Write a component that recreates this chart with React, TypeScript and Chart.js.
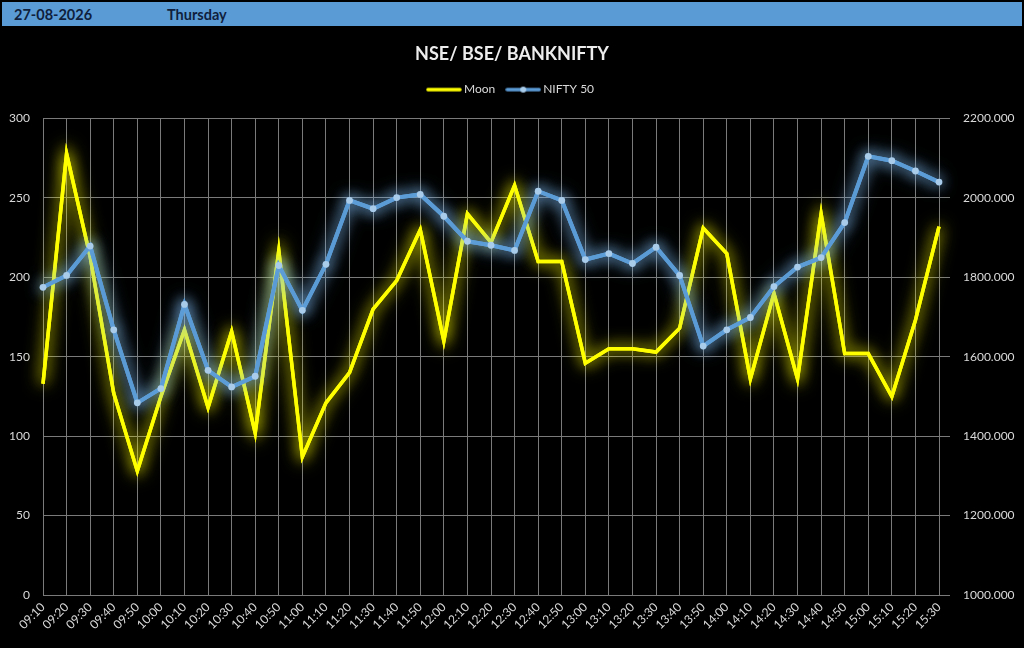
import React, { useEffect, useRef } from "react";
import { Chart, registerables } from "chart.js";

Chart.register(...registerables);

const headerDate = "27-08-2026";
const headerDay = "Thursday";
const chartTitle = "NSE/ BSE/ BANKNIFTY";
const seriesNames = ["Moon", "NIFTY 50"];

const timeLabels = [
  "09:10", "09:20", "09:30", "09:40", "09:50", "10:00", "10:10", "10:20", "10:30", "10:40",
  "10:50", "11:00", "11:10", "11:20", "11:30", "11:40", "11:50", "12:00", "12:10", "12:20",
  "12:30", "12:40", "12:50", "13:00", "13:10", "13:20", "13:30", "13:40", "13:50", "14:00",
  "14:10", "14:20", "14:30", "14:40", "14:50", "15:00", "15:10", "15:20", "15:30",
];

const moonValues = [
  133, 278, 213, 127, 78, 125, 167, 118, 166, 102,
  217, 87, 121, 140, 180, 198, 230, 160, 240, 222,
  258, 210, 210, 146, 155, 155, 153, 168, 231, 215,
  136, 190, 136, 240, 152, 152, 125, 173, 232,
];

const niftyValues = [
  1775, 1805, 1879, 1668, 1484, 1520, 1732, 1566, 1524, 1551,
  1830, 1717, 1833, 1994, 1973, 2001, 2009, 1954, 1891, 1881,
  1868, 2017, 1994, 1845, 1860, 1835, 1876, 1805, 1627, 1668,
  1699, 1777, 1826, 1850, 1938, 2105, 2094, 2068, 2040,
];

const leftAxis = { min: 0, max: 300, step: 50 };
const rightAxis = { min: 1000, max: 2200, step: 200 };

const FONT = "Lato, 'Open Sans', sans-serif";
const TEXT = "#D9D9D9";
const GRID = "#7a7a7a";
const YELLOW = "#FFFF00";
const BLUE = "#5B9BD5";
const BLUE_PT = "#A9CCEB";

function legendImage(color: string, withDot: boolean) {
  const c = document.createElement("canvas");
  c.width = 36;
  c.height = 10;
  const g = c.getContext("2d")!;
  g.strokeStyle = color;
  g.lineWidth = 3.5;
  g.lineCap = "round";
  g.beginPath();
  g.moveTo(2, 5);
  g.lineTo(34, 5);
  g.stroke();
  if (withDot) {
    g.fillStyle = BLUE_PT;
    g.beginPath();
    g.arc(18, 5, 3, 0, Math.PI * 2);
    g.fill();
  }
  return c;
}

const glowPlugin = {
  id: "glow",
  beforeDatasetDraw(chart: any, args: any) {
    const ds = chart.data.datasets[args.index];
    const ctx = chart.ctx;
    ctx.save();
    ctx.shadowColor = ds.glowColor || "transparent";
    ctx.shadowBlur = 14;
    // extra soft halo pass
    const meta = args.meta;
    if (meta && meta.dataset) {
      ctx.save();
      ctx.shadowBlur = 18;
      meta.dataset.draw(ctx, chart.chartArea);
      ctx.restore();
    }
  },
  afterDatasetDraw(chart: any) {
    chart.ctx.restore();
  },
};

const legendSpacer = {
  id: "legendSpacer",
  afterInit(chart: any) {
    const legend = chart.legend;
    if (legend && !legend.__patched) {
      const fit = legend.fit.bind(legend);
      legend.fit = () => {
        fit();
        legend.height += 13;
      };
      legend.__patched = true;
    }
  },
};

export default function App() {
  const ref = useRef<HTMLCanvasElement>(null);

  useEffect(() => {
    if (!ref.current) return;
    const imgs = [legendImage(YELLOW, false), legendImage(BLUE, true)];
    const chart = new Chart(ref.current, {
      type: "line",
      data: {
        labels: timeLabels,
        datasets: [
          {
            label: seriesNames[0],
            data: moonValues,
            yAxisID: "y",
            borderColor: YELLOW,
            backgroundColor: YELLOW,
            borderWidth: 3.5,
            pointRadius: 0,
            tension: 0,
            order: 1,
            clip: false,
            glowColor: "rgba(255,255,0,0.8)",
          } as any,
          {
            label: seriesNames[1],
            data: niftyValues,
            yAxisID: "y2",
            borderColor: BLUE,
            backgroundColor: BLUE_PT,
            borderWidth: 4,
            pointRadius: 3.4,
            pointBorderWidth: 0,
            pointBackgroundColor: BLUE_PT,
            tension: 0,
            order: 0,
            clip: false,
            glowColor: "rgba(130,190,245,0.9)",
          } as any,
        ],
      },
      options: {
        responsive: false,
        animation: false,
        layout: { padding: 0 },
        plugins: {
          title: {
            display: true,
            text: chartTitle,
            color: "#EDEDED",
            font: { family: FONT, size: 18, weight: "bold" },
            padding: { top: 16, bottom: 5 },
          },
          legend: {
            display: true,
            position: "top",
            labels: {
              color: TEXT,
              font: { family: FONT, size: 12 },
              usePointStyle: true,
              pointStyleWidth: 28,
              padding: 14,
              generateLabels: () =>
                seriesNames.map((name, i) => ({
                  text: name,
                  pointStyle: imgs[i] as any,
                  fillStyle: "transparent",
                  strokeStyle: "transparent",
                  lineWidth: 0,
                  fontColor: TEXT,
                  hidden: false,
                  datasetIndex: i,
                })),
            },
          },
          tooltip: { enabled: false },
        },
        scales: {
          x: {
            type: "category",
            offset: false,
            grid: { color: GRID, lineWidth: 1, drawTicks: false },
            border: { color: GRID },
            ticks: {
              color: TEXT,
              font: { family: FONT, size: 12 },
              autoSkip: false,
              minRotation: 45,
              maxRotation: 45,
              padding: 5,
            },
            afterFit(scale: any) {
              scale.height = 53;
            },
          },
          y: {
            position: "left",
            min: leftAxis.min,
            max: leftAxis.max,
            grid: { color: GRID, lineWidth: 1, drawTicks: false },
            border: { display: false },
            ticks: {
              stepSize: leftAxis.step,
              color: TEXT,
              font: { family: FONT, size: 12 },
              padding: 13,
            },
            afterFit(scale: any) {
              scale.width = 43;
            },
          },
          y2: {
            position: "right",
            min: rightAxis.min,
            max: rightAxis.max,
            grid: { color: GRID, lineWidth: 1, drawOnChartArea: false, drawTicks: true, tickLength: 11 },
            border: { display: false },
            ticks: {
              stepSize: rightAxis.step,
              color: TEXT,
              font: { family: FONT, size: 12 },
              padding: 13,
              callback: (v: any) => Number(v).toFixed(3),
            },
            afterFit(scale: any) {
              scale.width = 85;
            },
          },
        },
      } as any,
      plugins: [glowPlugin, legendSpacer],
    });
    return () => chart.destroy();
  }, []);

  return (
    <div
      style={{
        position: "absolute",
        left: 0,
        top: 0,
        width: 1024,
        height: 648,
        background: "#000",
        overflow: "hidden",
      }}
    >
      <div
        style={{
          position: "absolute",
          left: 2,
          top: 2,
          width: 1020,
          height: 24,
          background: "#5B9BD5",
          fontFamily: FONT,
          fontWeight: "bold",
          fontSize: 14.5,
          color: "#0F1F3D",
        }}
      >
        <span style={{ position: "absolute", left: 12, top: 4 }}>{headerDate}</span>
        <span style={{ position: "absolute", left: 165, top: 4 }}>{headerDay}</span>
      </div>
      <div style={{ position: "absolute", left: 0, top: 27, width: 1024, height: 621 }}>
        <canvas ref={ref} width={1024} height={621} style={{ width: 1024, height: 621, display: "block" }} />
      </div>
    </div>
  );
}
